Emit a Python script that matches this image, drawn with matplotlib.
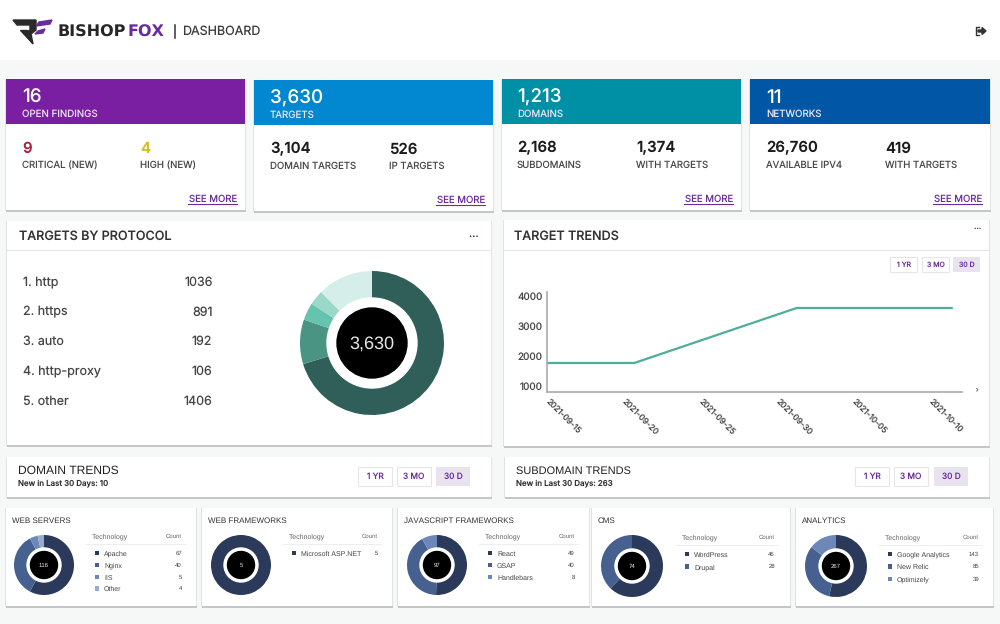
import matplotlib
matplotlib.use('Agg')
import matplotlib.pyplot as plt
from matplotlib.patches import Rectangle, Polygon, Circle
from matplotlib.transforms import ScaledTranslation

plt.rcParams['text.hinting'] = 'no_hinting'
plt.rcParams['text.hinting_factor'] = 1

# stat cards
card_numbers = ['16', '3,630', '1,213', '11']
card_names = ['OPEN FINDINGS', 'TARGETS', 'DOMAINS', 'NETWORKS']
sub_numbers = [['9', '4'], ['3,104', '526'], ['2,168', '1,374'], ['26,760', '419']]
sub_names = [['CRITICAL (NEW)', 'HIGH (NEW)'], ['DOMAIN TARGETS', 'IP TARGETS'],
             ['SUBDOMAINS', 'WITH TARGETS'], ['AVAILABLE IPV4', 'WITH TARGETS']]

# targets by protocol
protocols = ['1. http', '2. https', '3. auto', '4. http-proxy', '5. other']
protocol_counts = ['1036', '891', '192', '106', '1406']
# slice sizes as drawn, they do not follow the table next to the ring
ring_sizes = [253, 36, 14, 12, 45]
ring_total = '3,630'

# target trends
trend_days = [0, 5.7, 16.3, 26.5]
trend_values = [1767, 1767, 3600, 3600]
trend_tick_days = [0, 5, 10, 15, 20, 25]
trend_tick_labels = ['2021-09-15', '2021-09-20', '2021-09-25', '2021-09-30', '2021-10-05', '2021-10-10']
trend_y_ticks = [1000, 2000, 3000, 4000]

# technology cards
tech_titles = ['WEB SERVERS', 'WEB FRAMEWORKS', 'JAVASCRIPT FRAMEWORKS', 'CMS', 'ANALYTICS']
tech_names = [['Apache', 'Nginx', 'IIS', 'Other'], ['Microsoft ASP.NET'],
              ['React', 'GSAP', 'Handlebars'], ['WordPress', 'Drupal'],
              ['Google Analytics', 'New Relic', 'Optimizely']]
tech_counts = [[67, 40, 5, 4], [5], [49, 40, 8], [46, 28], [143, 85, 39]]
tech_totals = ['116', '5', '97', '74', '267']

W, H = 1000, 624
INTER = ['Inter', 'DejaVu Sans']
ARIAL = ['Liberation Sans', 'DejaVu Sans']
PURPLE = '#6a2c9c'
BLUES = ['#2b3a5a', '#46608f', '#6d88b8', '#97abd0']
GREENS = ['#2f5f58', '#4a9484', '#66c3af', '#9bd8ca', '#d6eeea']

fig = plt.figure(figsize=(W / 100, H / 100), dpi=100, facecolor='#f6f7f7')
bg = fig.add_axes([0, 0, 1, 1])
bg.set_xlim(0, W)
bg.set_ylim(H, 0)
bg.axis('off')


def box(x0, y0, x1, y1, color='white', edge='none', lw=0, z=1):
    bg.add_patch(Rectangle((x0, y0), x1 - x0, y1 - y0, facecolor=color, edgecolor=edge, linewidth=lw, zorder=z))


def card(x0, y0, x1, y1):
    box(x0 - 0.7, y0, x1 + 0.7, y1 + 0.5, color='#e2e3e4', z=1)
    box(x0 - 0.5, y1, x1 + 0.5, y1 + 1.5, color='#c4c6c8', z=1)
    box(x0, y0, x1, y1, z=2)


def label(x, y, s, size=8, color='#333333', ha='left', weight='normal', family=INTER, **kw):
    bg.text(x, y + 0.15 * size, s, fontsize=size, color=color, ha=ha, va='center', fontweight=weight,
            family=family, zorder=5, **kw)


def px_axes(x0, y0, x1, y1):
    return fig.add_axes([x0 / W, 1 - y1 / H, (x1 - x0) / W, (y1 - y0) / H])


def ring(cx, cy, r, sizes, colors, hole, core, text, size):
    ax = px_axes(cx - r, cy - r, cx + r, cy + r)
    ax.pie(sizes, colors=colors, startangle=90, counterclock=False, radius=1,
           wedgeprops={'linewidth': 0})
    ax.add_patch(Circle((0, 0), hole / r, color='white', zorder=3))
    ax.add_patch(Circle((0, 0), core / r, color='black', zorder=4))
    ax.text(0, -0.01, text, color='#e8e8e8', fontsize=size, ha='center', va='center', zorder=5, family=ARIAL)
    ax.set_xlim(-1, 1)
    ax.set_ylim(-1, 1)
    ax.axis('off')


def range_buttons(xs, y0, y1, size, w):
    for x, s, on in zip(xs, ['1 YR', '3 MO', '30 D'], [False, False, True]):
        box(x, y0, x + w, y1, color='#e9e3f0' if on else 'white', edge=None if on else '#e6e6e6', lw=0 if on else 0.8, z=3)
        label(x + w / 2, (y0 + y1) / 2 - 0.5, s, size=size, color=PURPLE, ha='center')


# header
box(0, 0, W, 60, z=0)
bg.add_patch(Polygon([(13, 20), (36, 20), (36, 30), (31, 34), (33, 44), (24, 34), (30, 30), (30, 25), (17, 25)],
                     color='#2a2a2a', zorder=3))
bg.add_patch(Polygon([(20, 30), (27, 30), (27, 34), (24, 34)], color='#2a2a2a', zorder=3))
bg.add_patch(Polygon([(39, 22), (52, 20), (50, 24), (36, 26)], color=PURPLE, zorder=3))
bg.add_patch(Polygon([(38, 31), (45, 29), (43, 33), (35, 34)], color=PURPLE, zorder=3))
label(58, 30.5, 'BISHOP', size=11.6, color='#262626', weight='bold', family=['DejaVu Sans'])
label(128, 30.5, 'FOX', size=11.6, color=PURPLE, weight='bold', family=['DejaVu Sans'])
bg.plot([175, 175], [25, 38], color='#333333', lw=1.1, zorder=5)
label(182, 30.5, 'DASHBOARD', size=9, color='#3a3a3a')
bg.plot([979, 976, 976, 979], [27, 27, 35, 35], color='#333333', lw=1, zorder=5)
bg.add_patch(Polygon([(978, 30), (982, 30), (982, 27.5), (986, 31), (982, 34.5), (982, 32), (978, 32)],
                     color='#333333', zorder=5))

# stat cards
card_x = [(6, 245), (254, 493), (502, 741), (750, 990)]
card_y = [79, 80, 79, 79]
card_colors = ['#7b1fa2', '#0288d1', '#0090a6', '#0157a5']
text_x = [22, 270, 517, 766]
col_x = [140, 389, 636, 885]
number_colors = [['#ad1f45', '#d8bd1c'], ['#1c1c1c', '#1c1c1c'], ['#1c1c1c', '#1c1c1c'], ['#1c1c1c', '#1c1c1c']]
for i in range(4):
    x0, x1 = card_x[i]
    y = card_y[i]
    card(x0, y, x1, y + 131)
    box(x0, y, x1, y + 45, color=card_colors[i], z=3)
    label(text_x[i], y + 17, card_numbers[i], size=13.5, color='white', weight='medium')
    label(text_x[i], y + 34, card_names[i], size=7, color='#e8e3f0')
    for j in range(2):
        xx = [text_x[i], col_x[i]][j]
        label(xx, y + 68, sub_numbers[i][j], size=10.8, color=number_colors[i][j], weight='semibold')
        label(xx, y + 85, sub_names[i][j], size=6.9, color='#4a4a4a')
    label(x1 - 8, y + 119, 'SEE MORE', size=6.9, color=PURPLE, ha='right')
    bg.plot([x1 - 57, x1 - 8], [y + 125, y + 125], color=PURPLE, lw=0.8, zorder=5)

# targets by protocol
card(7, 221, 491, 445)
bg.plot([7, 491], [250, 250], color='#e6e6e6', lw=0.8, zorder=3)
label(19, 235, 'TARGETS BY PROTOCOL', size=9.1, color='#333333', weight='medium')
label(473, 233, '\u2026', size=8, ha='center')
for k, (name, count) in enumerate(zip(protocols, protocol_counts)):
    label(23, 281 + k * 29.7, name, size=9, color='#444444')
    label(212.5, 281 + k * 29.7, count, size=9, color='#444444', ha='right')
ring(372, 343, 72, ring_sizes, GREENS, 45, 35, ring_total, 13)

# target trends
card(504, 220, 989, 446)
bg.plot([504, 989], [250, 250], color='#e6e6e6', lw=0.8, zorder=3)
label(514, 235, 'TARGET TRENDS', size=9.1, color='#333333', weight='medium')
label(977, 226, '\u2026', size=6, ha='center')
range_buttons([890, 922, 953], 257, 272, 5, 27)
ax = px_axes(547, 292, 962, 392)
ax.patch.set_alpha(0)
ax.plot(trend_days, trend_values, color='#4fae9b', lw=1.6, solid_capstyle='butt')
ax.set_xlim(0, 27.1)
ax.set_ylim(800, 4133)
ax.set_xticks(trend_tick_days)
ax.set_xticklabels(trend_tick_labels, rotation=-45, ha='left', va='top', rotation_mode='anchor',
                   fontsize=6, color='#444444', family=INTER)
ax.set_yticks(trend_y_ticks)
ax.set_yticklabels([str(v) for v in trend_y_ticks], fontsize=7.2, color='#444444', family=INTER)
ax.tick_params(length=0, pad=3)
ax.tick_params(axis='x', pad=4)
for lbl in ax.get_xticklabels():
    lbl.set_transform(lbl.get_transform() + ScaledTranslation(3 / 100, 0, fig.dpi_scale_trans))
for side in ['top', 'right']:
    ax.spines[side].set_visible(False)
for side in ['left', 'bottom']:
    ax.spines[side].set_color('#aaaaaa')
    ax.spines[side].set_linewidth(1.2)
label(976, 389, '\u203a', size=5, color='#666666', ha='center')

# domain / subdomain strips
card(7, 457, 491, 497)
label(18, 470, 'DOMAIN TRENDS', size=8.3, color='#222222', family=ARIAL)
label(18, 482, 'New in Last 30 Days: 10', size=5.7, color='#333333', weight='medium')
range_buttons([358, 397, 436], 467, 486, 6, 34)
card(505, 457, 989, 497)
label(516, 470, 'SUBDOMAIN TRENDS', size=8.2, color='#222222', family=ARIAL)
label(516, 482, 'New in Last 30 Days: 263', size=5.7, color='#333333', weight='medium')
range_buttons([855, 894, 934], 467, 486, 6, 34)

# technology cards
tech_x = [(6, 196), (202, 392), (398, 589), (592, 790), (796, 993)]
ring_cx = [44, 241, 437, 632, 836]
ring_cy = [565, 565, 565, 566, 566]
ring_r = [30, 30, 30, 31, 31]
head_x = [92, 289, 485, 682, 885]
count_x = [182, 378, 575, 775, 979]
head_y = [536, 536, 536, 537, 537]
row_y = [[553, 565, 577, 588.5], [553], [553, 565, 577], [554, 566.5], [554, 566.5, 579]]
for i in range(5):
    x0, x1 = tech_x[i]
    card(x0, 508, x1, 606)
    label(x0 + 5.5, 520, tech_titles[i], size=5.65, color='#333333', family=ARIAL)
    ring(ring_cx[i], ring_cy[i], ring_r[i], tech_counts[i], BLUES, 17, 13.5, tech_totals[i], 4)
    hx = head_x[i]
    label(hx, head_y[i], 'Technology', size=5, color='#666666', family=ARIAL)
    label(count_x[i], head_y[i], 'Count', size=4.6, color='#666666', ha='right', family=ARIAL)
    bg.plot([hx - 6, count_x[i] + 3], [head_y[i] + 8, head_y[i] + 8], color='#eeeeee', lw=0.7, zorder=3)
    for name, count, ry, col in zip(tech_names[i], tech_counts[i], row_y[i], BLUES):
        box(hx + 2.5, ry - 2.3, hx + 7, ry + 2.2, color=col, z=4)
        label(hx + 12, ry, name, size=4.9, color='#444444', family=ARIAL)
        label(count_x[i], ry - 0.5, str(count), size=4.6, color='#444444', ha='right', family=ARIAL)

fig.savefig('out.png', dpi=100, facecolor=fig.get_facecolor())
